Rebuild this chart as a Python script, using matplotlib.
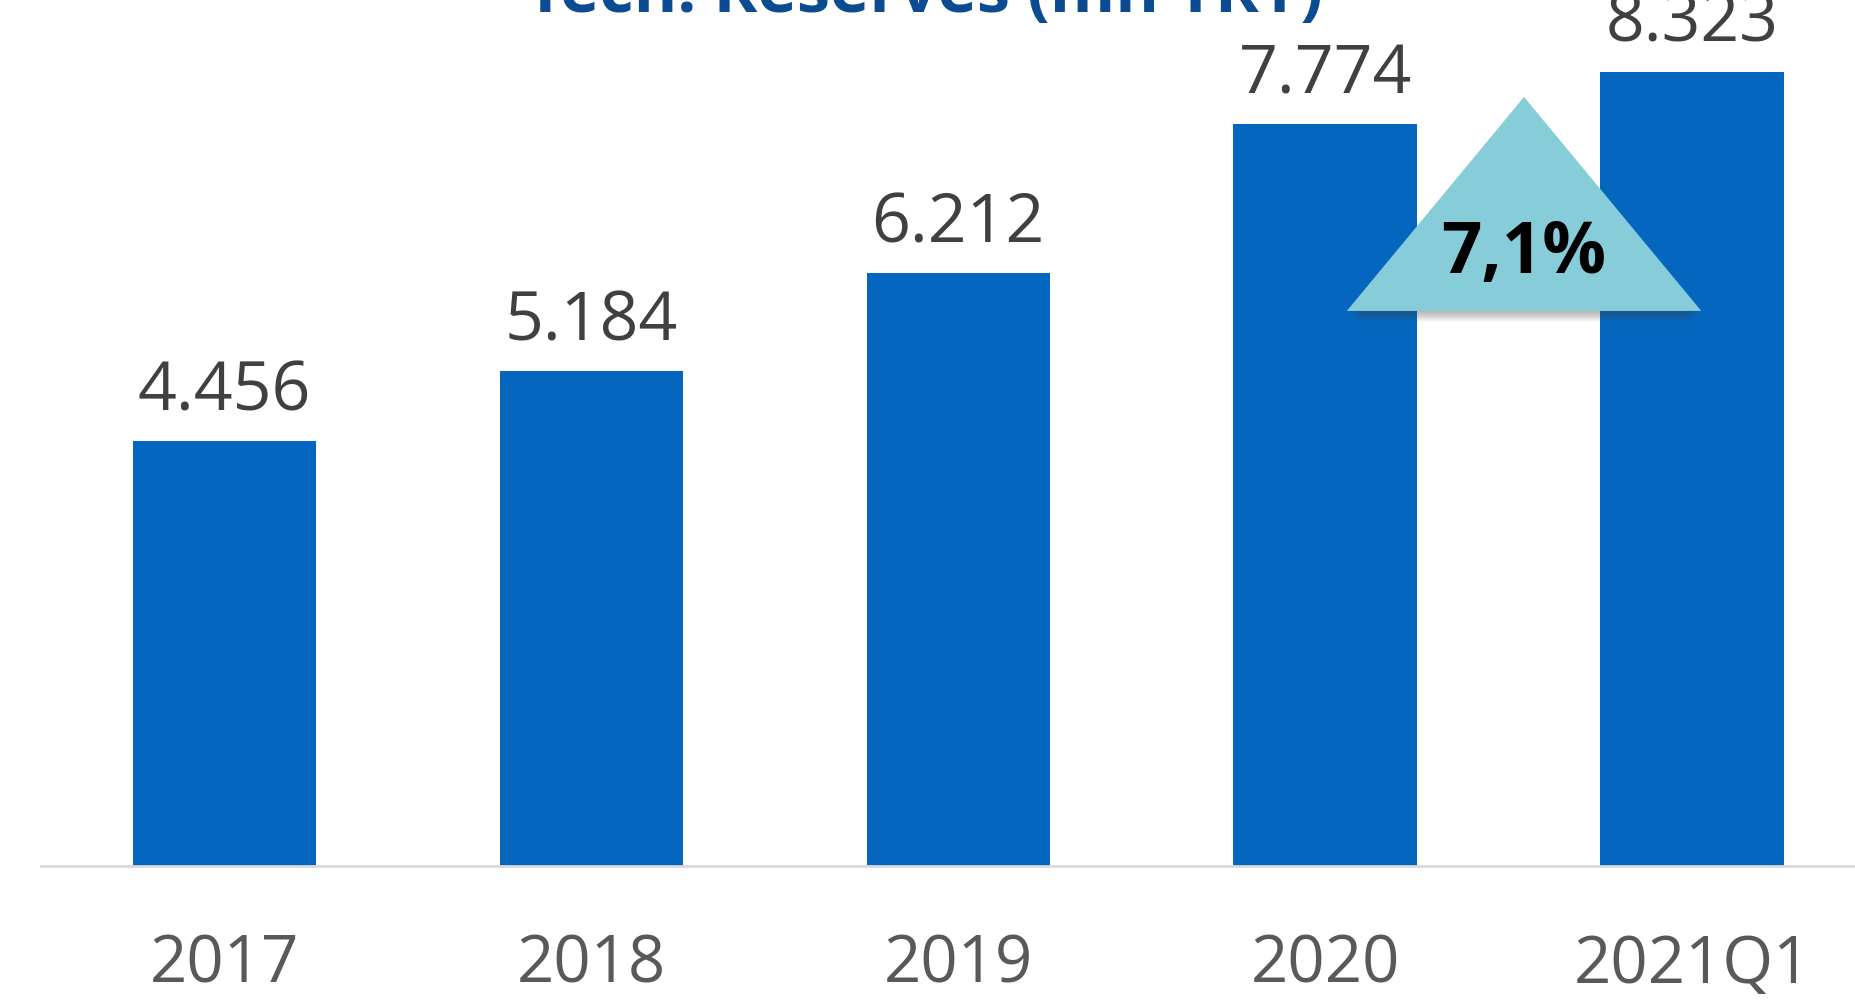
import numpy as np
import matplotlib.pyplot as plt
from matplotlib.patches import Polygon

plt.rcParams['font.family'] = ['Open Sans', 'DejaVu Sans']

years = ["2017", "2018", "2019", "2020", "2021Q1"]
reserves = [4456, 5184, 6212, 7774, 8323]
value_labels = ["4.456", "5.184", "6.212", "7.774", "8.323"]
growth_label = "7,1%"
title = "Tech. Reserves (mn TRY)"

bar_color = "#0566C0"
tri_color = "#86CCD9"

fig = plt.figure(figsize=(18.55, 10), dpi=100)
ax = fig.add_axes([41 / 1855, 0.134, 1 - 41 / 1855, 0.866])

x = np.arange(len(years))
bars = ax.bar(x, reserves, width=0.5, color=bar_color, zorder=2)

for xi, val, lab in zip(x, reserves, value_labels):
    ax.annotate(lab, (xi, val), xytext=(0, 22), textcoords="offset points",
                ha="center", va="baseline", fontsize=49, color="#404040")

ax.set_xlim(-0.5, 4.444)
ax.set_ylim(0, 9077)
ax.set_xticks(x)
ax.set_xticklabels(years, fontsize=47, color="#595959")
ax.tick_params(axis="x", length=0, pad=48)
ax.set_yticks([])
for side in ["top", "right", "left"]:
    ax.spines[side].set_visible(False)
ax.spines["bottom"].set_color("#D9D9D9")
ax.spines["bottom"].set_linewidth(2)

# growth arrow between the last two bars, with a soft drop shadow
apex_x, half_w = 3.542, 0.483
top_y, base_y = 8061, 5818
for k in range(1, 7):
    dy = 18 * k
    shadow = Polygon([[apex_x - half_w + 0.004 * k, base_y - dy],
                      [apex_x + half_w - 0.004 * k, base_y - dy],
                      [apex_x, top_y - dy]], closed=True, color="#404040",
                     alpha=0.07, lw=0, zorder=3)
    ax.add_patch(shadow)
tri = Polygon([[apex_x - half_w, base_y], [apex_x + half_w, base_y], [apex_x, top_y]],
              closed=True, color=tri_color, lw=0, zorder=4)
ax.add_patch(tri)
ax.text(apex_x, 6216, growth_label, ha="center", va="baseline", fontsize=51,
        fontweight="bold", color="black", zorder=5)

fig.text(924 / 1855, 0.988, title, ha="center", va="baseline", fontsize=48,
         fontweight="bold", color="#0B4B91")

fig.savefig("out.png", dpi=100)
